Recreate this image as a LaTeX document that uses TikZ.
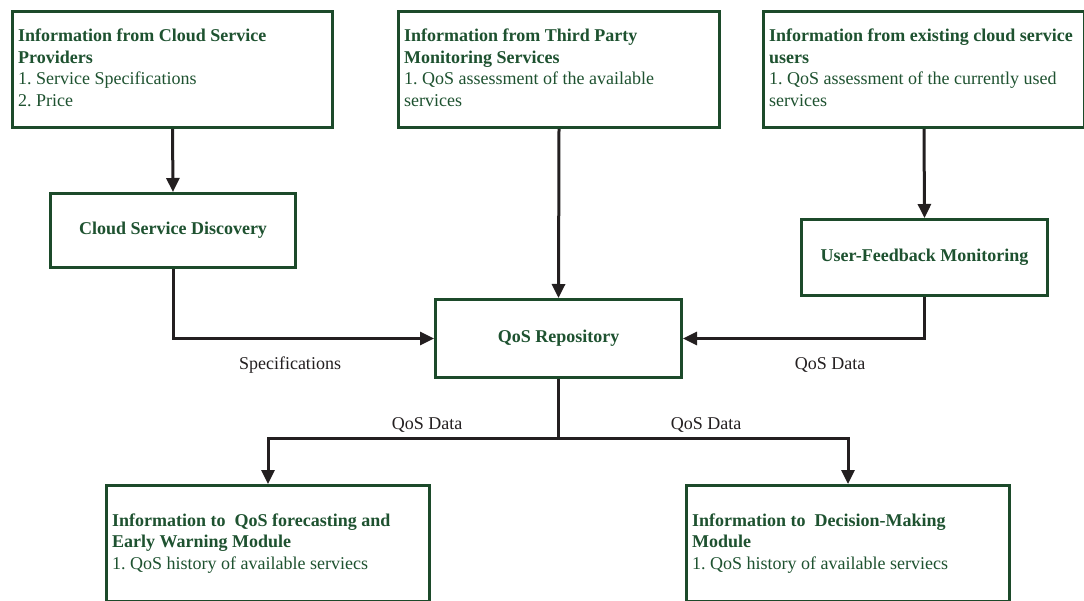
\documentclass[tikz,border=0pt]{standalone}
\usepackage{fontspec}
\setmainfont{Liberation Serif}
\usetikzlibrary{arrows.meta}
\definecolor{boxgreen}{HTML}{1C4A2A}
\definecolor{txtgreen}{HTML}{1E5230}
\definecolor{ink}{HTML}{231F20}
\frenchspacing

\tikzset{
  frame/.style={draw=boxgreen, line width=3pt, fill=white, anchor=north west,
    inner sep=0pt},
  infotext/.style={text=txtgreen, font=\fontsize{18}{21.5}\selectfont,
    align=left, anchor=west, inner sep=0pt},
  stagebox/.style={frame, text=txtgreen, align=center,
    font=\fontsize{18}{21.5}\selectfont\bfseries},
  flow/.style={draw=ink, line width=3pt,
    -{Triangle[length=14pt,width=13pt]}},
  link/.style={draw=ink, line width=3pt},
  tag/.style={text=ink, font=\fontsize{18}{21.5}\selectfont, inner sep=0pt}
}

\begin{document}
\begin{tikzpicture}[x=1pt, y=-1pt]
\useasboundingbox (0,0) rectangle (1084,601);

% sources of information
\node[frame, minimum width=320pt, minimum height=116pt] (provider) at (11,10) {};
\node[infotext] (providertext) at ([xshift=7pt,yshift=1.5pt]provider.west)
  {\textbf{Information from Cloud Service}\\\textbf{Providers}\\1. Service Specifications\\2. Price};
\node[frame, minimum width=321pt, minimum height=116pt] (thirdparty) at (397,10) {};
\node[infotext] (thirdpartytext) at ([xshift=7pt,yshift=1.5pt]thirdparty.west)
  {\textbf{Information from Third Party}\\\textbf{Monitoring Services}\\1. QoS assessment of the available\\services};
\node[frame, minimum width=321pt, minimum height=116pt] (users) at (762,10) {};
\node[infotext] (userstext) at ([xshift=7pt,yshift=1.5pt]users.west)
  {\textbf{Information from existing cloud service}\\\textbf{users}\\1. QoS assessment of the currently used\\services};

% processing stages
\node[stagebox, minimum width=245pt, minimum height=74pt] (discovery) at (49,192)
  {Cloud Service Discovery};
\node[stagebox, minimum width=246pt, minimum height=76pt] (feedback) at (800,218)
  {User-Feedback Monitoring};
\node[stagebox, minimum width=246pt, minimum height=78pt] (repo) at (434,298)
  {QoS Repository};

% consumers of the repository
\node[frame, minimum width=323pt, minimum height=116pt] (forecast) at (105,484) {};
\node[infotext] (forecasttext) at ([xshift=7pt]forecast.west)
  {\textbf{Information to\ \ QoS forecasting and}\\\textbf{Early Warning Module}\\1. QoS history of available serviecs};
\node[frame, minimum width=323pt, minimum height=116pt] (decision) at (685,484) {};
\node[infotext] (decisiontext) at ([xshift=7pt]decision.west)
  {\textbf{Information to\ \ Decision-Making}\\\textbf{Module}\\1. QoS history of available serviecs};

% connectors
\draw[flow] (provider.south) -- (discovery.north);
\draw[flow] (thirdparty.south) -- (repo.north);
\draw[flow] (users.south) -- (feedback.north);
\draw[flow] (discovery.south) |- (repo.west);
\draw[flow] (feedback.south) |- (repo.east);

\coordinate (split) at (repo.south |- 0,438);
\draw[link] (repo.south) -- (split);
\draw[flow] (split) -| (forecast.north);
\draw[flow] (split) -| (decision.north);

% connector labels
\node[tag] (specs) at (290,365) {Specifications};
\node[tag] (fbdata) at (830,365) {QoS Data};
\node[tag] (leftdata) at (427,425) {QoS Data};
\node[tag] (rightdata) at (706,425) {QoS Data};
\end{tikzpicture}
\end{document}
